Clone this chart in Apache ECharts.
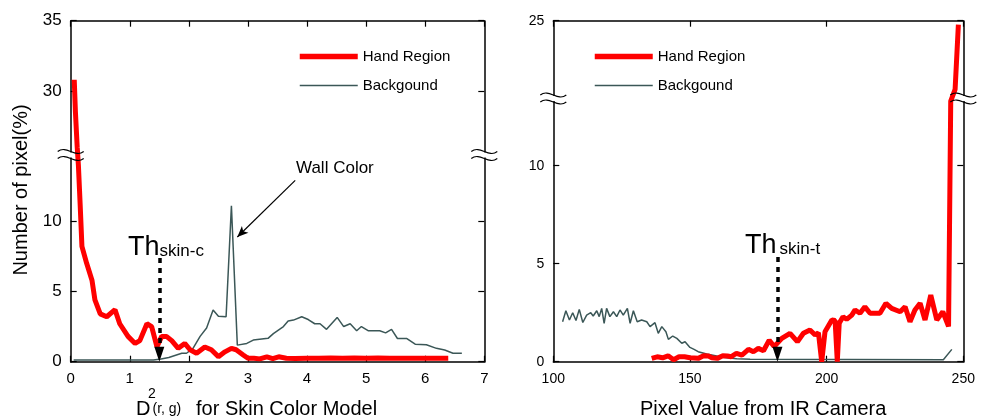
<!DOCTYPE html>
<html>
<head>
<meta charset="utf-8">
<script src="https://cdn.jsdelivr.net/npm/echarts@6/dist/echarts.min.js"></script>
<style>
  html, body { margin: 0; padding: 0; background: #fff; }
  #chart { width: 985px; height: 416px; }
</style>
</head>
<body>
<div id="chart"></div>
<script>
// left panel: distance D^2(r,g) for skin colour model
var leftHandX = [0.06, 0.08, 0.11, 0.13, 0.16, 0.19, 0.27, 0.36, 0.41, 0.50, 0.61, 0.75, 0.83, 0.97, 1.09, 1.17, 1.29, 1.37, 1.46, 1.54, 1.62, 1.71, 1.82, 1.93, 2.02, 2.13, 2.27, 2.38, 2.50, 2.61, 2.72, 2.80, 2.92, 3.00, 3.10, 3.20, 3.32, 3.42, 3.52, 3.65, 3.80, 4.00, 4.20, 4.40, 4.60, 4.80, 5.00, 5.20, 5.40, 5.60, 5.80, 6.00, 6.20, 6.39];
var leftHandY = [30.8, 28.5, 26.0, 14.0, 11.2, 8.2, 7.0, 5.8, 4.4, 3.4, 3.2, 3.7, 2.7, 1.8, 1.3, 1.5, 2.7, 2.5, 1.06, 1.8, 1.8, 1.5, 0.95, 1.3, 0.85, 0.6, 1.05, 0.85, 0.36, 0.7, 0.95, 0.85, 0.48, 0.24, 0.25, 0.2, 0.35, 0.22, 0.35, 0.25, 0.22, 0.25, 0.24, 0.26, 0.24, 0.26, 0.24, 0.26, 0.24, 0.25, 0.24, 0.25, 0.24, 0.25];
var leftBgX = [0.05, 1.40, 1.53, 1.66, 1.88, 1.96, 2.07, 2.19, 2.30, 2.41, 2.50, 2.63, 2.72, 2.82, 2.98, 3.09, 3.34, 3.43, 3.60, 3.68, 3.77, 3.91, 4.02, 4.13, 4.22, 4.33, 4.51, 4.62, 4.73, 4.84, 4.92, 5.04, 5.23, 5.33, 5.43, 5.53, 5.69, 5.83, 6.02, 6.19, 6.33, 6.47, 6.62];
var leftBgY = [0.12, 0.12, 0.2, 0.3, 0.6, 0.6, 0.95, 1.8, 2.4, 3.67, 3.24, 3.2, 11.1, 1.18, 1.3, 1.54, 1.66, 2.0, 2.5, 2.9, 2.96, 3.2, 3.0, 2.7, 2.7, 2.3, 3.15, 2.5, 2.7, 2.2, 2.5, 2.2, 2.2, 2.05, 2.3, 1.65, 1.65, 1.25, 1.2, 0.95, 0.83, 0.6, 0.6];
var leftYTicks = [0, 5, 10, 30, 35];
var leftBreak = [14.66, 25.4];
var leftThreshold = 1.5;

// right panel: pixel value from IR camera
var rightHandX = [136, 138, 140, 142, 144, 146, 148, 150, 153, 155, 156.8, 158, 160, 162, 163.7, 165, 167, 169, 171.4, 173.2, 175, 176.9, 179, 180.8, 183.6, 186.6, 189.3, 191.5, 193.9, 195.8, 197, 198.2, 199.4, 201.9, 203.1, 203.9, 204.6, 206, 207.3, 209.2, 210.4, 212.2, 214, 215.9, 219.5, 221.7, 223.8, 226.9, 228.7, 230.5, 232.3, 234.2, 236, 238.1, 240.3, 242.5, 244.6, 245.4, 247.0, 248.2];
var rightHandY = [0.17, 0.25, 0.2, 0.3, 0.1, 0.25, 0.25, 0.2, 0.17, 0.3, 0.29, 0.2, 0.17, 0.3, 0.29, 0.25, 0.43, 0.34, 0.63, 0.51, 0.68, 0.56, 1.1, 0.77, 1.19, 1.45, 1.02, 1.45, 1.62, 1.36, 1.48, 0, 1.53, 2.13, 2.1, 0, 1.96, 2.3, 2.16, 2.38, 2.64, 2.47, 2.8, 2.47, 2.47, 2.98, 2.72, 2.55, 2.8, 2.04, 2.64, 2.98, 2.13, 3.4, 2.13, 2.55, 1.8, 13.3, 21.5, 24.8];
var rightBgX = [103.4, 104.6, 105.9, 107.1, 108.3, 109.5, 110.8, 112.2, 113.7, 114.6, 115.9, 116.8, 117.7, 118.6, 119.5, 120.7, 122, 123.2, 124.4, 125.6, 127.1, 128.1, 129.3, 130.7, 132.3, 134.2, 135.4, 137.2, 138.4, 139.7, 141.2, 142.1, 143.7, 145.2, 147, 148.2, 150, 151.5, 153, 156.1, 159.8, 163.4, 167.1, 172, 242.7, 245.8];
var rightBgY = [2.04, 2.6, 2.13, 2.5, 2.1, 2.67, 2.0, 2.38, 2.5, 2.33, 2.6, 2.3, 2.72, 1.96, 2.72, 2.3, 2.55, 2.3, 2.64, 2.38, 2.72, 1.96, 2.6, 2.04, 2.13, 2.04, 1.79, 1.99, 1.45, 1.79, 1.53, 1.14, 1.31, 1.19, 0.94, 1.02, 0.73, 0.63, 0.51, 0.39, 0.29, 0.2, 0.15, 0.12, 0.1, 0.63];
var rightYTicks = [0, 5, 10, 25];
var rightBreak = [13.4, 21.0];
var rightThreshold = 182;

var FONT = '"Liberation Sans", Arial, sans-serif';
var RED = '#ff0000';
var GREY = '#3b5757';

function zip(xs, ys) {
  return xs.map(function (x, i) { return [x, ys[i]]; });
}

function xAxisOf(gridIndex, min, max, interval, pos, labelSize) {
  return {
    type: 'value', gridIndex: gridIndex, position: pos,
    min: min, max: max, interval: interval,
    axisLine: { show: true, onZero: false, lineStyle: { color: '#000', width: 1.5 } },
    axisTick: { show: true, inside: true, length: 6, lineStyle: { color: '#000', width: 1.2 } },
    axisLabel: { show: pos === 'bottom', color: '#000', fontSize: labelSize, fontFamily: FONT, margin: 10 },
    splitLine: { show: false }
  };
}

function yAxisOf(gridIndex, max, brk, ticks, pos, labelSize) {
  return {
    type: 'value', gridIndex: gridIndex, position: pos,
    min: 0, max: max, interval: 5,
    breaks: [{ start: brk[0], end: brk[1], gap: 0 }],
    breakArea: { show: false },
    axisLine: { show: true, onZero: false, lineStyle: { color: '#000', width: 1.5 } },
    axisTick: { show: true, inside: true, length: 6, customValues: ticks, lineStyle: { color: '#000', width: 1.2 } },
    axisLabel: {
      show: pos === 'left', color: '#000', fontSize: labelSize, fontFamily: FONT, margin: 9,
      customValues: ticks
    },
    splitLine: { show: false }
  };
}

// the two wavy lines that mark a broken axis
function breakMark(cx, cy) {
  var w = 13, a = 3.5;
  function wave(y) {
    return {
      type: 'bezierCurve', z: 5,
      shape: { x1: cx - w, y1: y, cpx1: cx - w / 3, cpy1: y - 7, cpx2: cx + w / 3, cpy2: y + 7, x2: cx + w, y2: y },
      style: { stroke: '#000', lineWidth: 1.2, fill: null }
    };
  }
  return [
    { type: 'rect', z: 4, shape: { x: cx - 3, y: cy - a + 1, width: 6, height: 2 * a - 2 }, style: { fill: '#fff' } },
    wave(cy - a), wave(cy + a)
  ];
}

function txt(x, y, text, size, extra) {
  var el = {
    type: 'text', x: x, y: y, z: 6,
    style: { text: text, fill: '#000', font: size + 'px ' + FONT, textAlign: 'left', textVerticalAlign: 'middle', align: 'left', verticalAlign: 'middle' }
  };
  for (var k in extra) el[k] = extra[k];
  return el;
}

var graphics = []
  .concat(breakMark(70.7, 155), breakMark(484.3, 155), breakMark(553.3, 98.5), breakMark(963.3, 98.5))
  .concat([
    txt(21, 190, 'Number of pixel(%)', 20, { rotation: Math.PI / 2, style: { text: 'Number of pixel(%)', fill: '#000', font: '20px ' + FONT, textAlign: 'center', align: 'center', textVerticalAlign: 'middle', verticalAlign: 'middle' } }),
    txt(136, 409.5, 'D', 20),
    txt(148, 394, '2', 14),
    txt(152.5, 409, '(r, g)', 14),
    txt(196, 409.5, 'for Skin Color Model', 20),
    txt(640, 409.5, 'Pixel Value from IR Camera', 20),
    txt(128, 247.5, 'Th', 27),
    txt(159.5, 251, 'skin-c', 17),
    txt(745, 246, 'Th', 27),
    txt(779.5, 249.5, 'skin-t', 17),
    txt(296, 168.5, 'Wall Color', 17)
  ]);

function thresholdLine(x, top, headY) {
  return {
    silent: true, animation: false,
    symbol: ['none', 'triangle'], symbolSize: [10, 15],
    label: { show: false },
    lineStyle: { color: '#000', width: 3.5, type: [5, 5] },
    data: [[{ coord: [x, top] }, { coord: [x, headY] }]]
  };
}

var chart = echarts.init(document.getElementById('chart'), null, { renderer: 'canvas' });
chart.setOption({
  animation: false,
  backgroundColor: '#fff',
  textStyle: { fontFamily: FONT },
  grid: [
    { left: 70.7, right: 500.7, top: 20.7, bottom: 54.3, outerBoundsMode: 'none' },
    { left: 553.3, right: 21.7, top: 20.7, bottom: 54.3, outerBoundsMode: 'none' }
  ],
  legend: [0, 1].map(function (i) {
    return {
      left: i === 0 ? 292 : 587, top: 44, orient: 'vertical',
      itemWidth: 58, itemHeight: 16, itemGap: 14,
      itemStyle: { opacity: 0 },
      data: [
        { name: 'Hand Region', lineStyle: { width: 5.5, color: RED } },
        { name: 'Backgound', lineStyle: { width: 1.5, color: GREY } }
      ],
      textStyle: { color: '#000', fontSize: 15, fontFamily: FONT },
      selectedMode: false
    };
  }),
  xAxis: [
    xAxisOf(0, 0, 7, 1, 'bottom', 15),
    xAxisOf(0, 0, 7, 1, 'top', 15),
    xAxisOf(1, 100, 250, 50, 'bottom', 14),
    xAxisOf(1, 100, 250, 50, 'top', 14)
  ],
  yAxis: [
    yAxisOf(0, 35, leftBreak, leftYTicks, 'left', 17),
    yAxisOf(0, 35, leftBreak, leftYTicks, 'right', 17),
    yAxisOf(1, 25, rightBreak, rightYTicks, 'left', 14),
    yAxisOf(1, 25, rightBreak, rightYTicks, 'right', 14)
  ],
  graphic: { elements: graphics },
  series: [
    {
      name: 'Backgound', type: 'line', xAxisIndex: 0, yAxisIndex: 0,
      data: zip(leftBgX, leftBgY), showSymbol: false, symbol: 'none',
      lineStyle: { color: GREY, width: 1.5 }, itemStyle: { color: GREY }, z: 2,
      markLine: {
        silent: true, animation: false,
        symbol: ['none', 'arrow'], symbolSize: [7, 11],
        label: { show: false },
        lineStyle: { color: '#000', width: 1.2, type: 'solid' },
        data: [[{ coord: [3.80, 12.9] }, { coord: [2.82, 8.87] }]]
      }
    },
    {
      name: 'Hand Region', type: 'line', xAxisIndex: 0, yAxisIndex: 0,
      data: zip(leftHandX, leftHandY), showSymbol: false, symbol: 'none',
      lineStyle: { color: RED, width: 5 }, itemStyle: { color: RED }, z: 3,
      markLine: thresholdLine(leftThreshold, 7.37, 0.53)
    },
    {
      name: 'Backgound', type: 'line', xAxisIndex: 2, yAxisIndex: 2,
      data: zip(rightBgX, rightBgY), showSymbol: false, symbol: 'none',
      lineStyle: { color: GREY, width: 1.5 }, itemStyle: { color: GREY }, z: 2
    },
    {
      name: 'Hand Region', type: 'line', xAxisIndex: 2, yAxisIndex: 2,
      data: zip(rightHandX, rightHandY), showSymbol: false, symbol: 'none',
      lineStyle: { color: RED, width: 5 }, itemStyle: { color: RED }, z: 3,
      markLine: thresholdLine(rightThreshold, 5.34, 0.38)
    }
  ]
});
</script>
</body>
</html>
